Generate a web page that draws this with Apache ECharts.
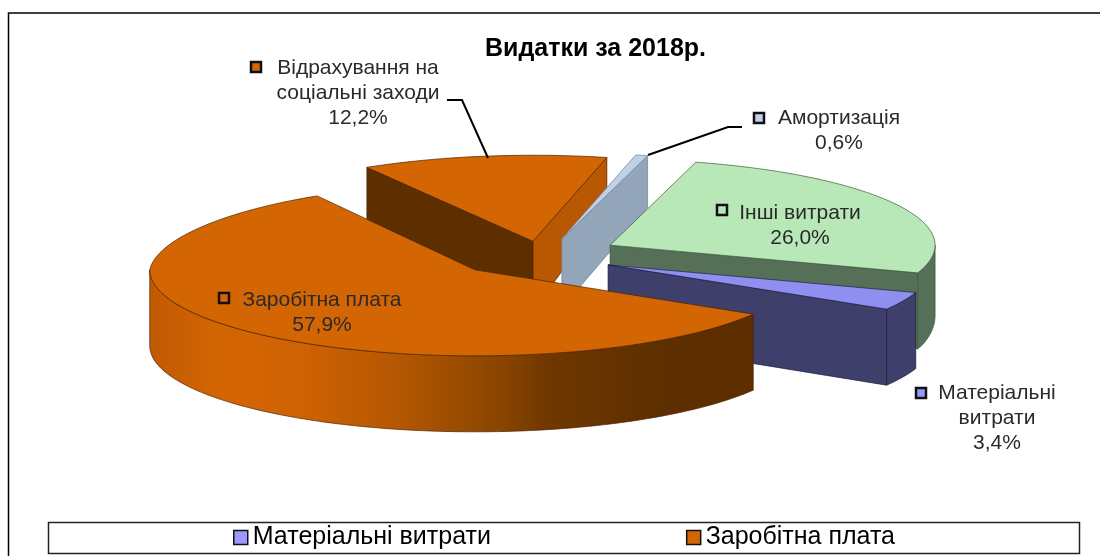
<!DOCTYPE html>
<html><head><meta charset="utf-8">
<style>html,body{margin:0;padding:0;background:#fff}#c{width:1100px;height:556px}</style>
<script src="https://cdn.jsdelivr.net/npm/echarts@6/dist/echarts.min.js"></script>
</head><body><div id="c"></div>
<script>
// ---- data ----
const categories = ['Матеріальні витрати','Заробітна плата','Відрахування на соціальні заходи','Амортизація','Інші витрати'];
const values = [3.4, 57.9, 12.2, 0.6, 26.0];
const legendItems = ['Матеріальні витрати','Заробітна плата'];
const titleText = 'Видатки за 2018р.';
const labelLines = [['Матеріальні','витрати'],['Заробітна плата'],['Відрахування на','соціальні заходи'],['Амортизація'],['Інші витрати']];

// ---- styles ----
const topColors  = ['#8f8fef','#d46503','#d46503','#c0d0e8','#b8e8b8'];
const wallColors = ['#3f3f6b','#5c2e00','#5c2e00','#93a5b8','#567058'];
const startWallColors = ['#3f3f6b','#5c2e00','#5c2e00','#93a5b8','#567058'];
const endWallColors = ['#3f3f6b','#5c2e00','#b85803','#93a5b8','#567058'];
const edgeColors = ['#1c1c40','#4a2400','#4a2400','#6f8098','#3a5a3a'];
const keyColors  = ['#9999ff','#d46503','#d46503','#c0d0e8','#b8e8b8'];
const drawOrder = [2,3,4,0,1];

// ---- geometry of the 3-D projection ----
const CX=535, CY=255, RX=325, RY=86, EX=85, EY=21, START=-18.8;
const nudge = [[-4,1],[0,0],[11,7],[6,4],[0,0]];
const squeeze = [0,0.06,0,0,0];
const total = values.reduce((a,b)=>a+b,0);
const rad = d=>d*Math.PI/180;
const slices = (()=>{let a=START;return values.map(v=>{const s=a,e=a-v/total*360;a=e;return {s,e};});})();
const apex = i=>{const m=rad((slices[i].s+slices[i].e)/2);return [CX+EX*Math.cos(m)+nudge[i][0],CY-EY*Math.sin(m)+nudge[i][1]];};
const rim = (i,deg)=>{const p=apex(i),sn=Math.sin(rad(deg));return [p[0]+RX*Math.cos(rad(deg))*(sn>0?1-squeeze[i]*sn:1),p[1]-RY*sn];};
const depth = y=>Math.max(52,Math.min(76,52+(y-160)*0.22));
const down = p=>[p[0],p[1]+depth(p[1])];
function arcPts(i,a,b){const n=Math.max(2,Math.ceil(Math.abs(a-b)/1.5));const out=[];for(let k=0;k<=n;k++)out.push(rim(i,a+(b-a)*k/n));return out;}
function poly(points,fill,stroke,w){return {type:'polygon',shape:{points},style:{fill,stroke,lineWidth:w===undefined?0.7:w}};}
const frontGrad = new echarts.graphic.LinearGradient(0,0,1,0,[
 {offset:0,color:'#c05a02'},{offset:.12,color:'#d46503'},{offset:.25,color:'#cf6203'},
 {offset:.41,color:'#b55702'},{offset:.58,color:'#8a4500'},{offset:.66,color:'#703700'},
 {offset:.83,color:'#5e3000'},{offset:1,color:'#5c2e00'}]);

function renderSlice(i){
  const {s,e}=slices[i], A=apex(i), children=[];
  const wall=(deg,c)=>{const r=rim(i,deg);children.push(poly([A,r,down(r),down(A)],c,edgeColors[i]));};
  if(Math.cos(rad(s))<0) wall(s,startWallColors[i]);
  if(Math.cos(rad(e))>0) wall(e,endWallColors[i]);
  // the outer wall shows where the rim runs along the lower half of the ellipse
  [[-180,0],[-540,-360]].forEach(([lo,hi])=>{
    const f0=Math.max(e,lo), f1=Math.min(s,hi);
    if(f1>f0){
      const t=arcPts(i,f1,f0);
      children.push(poly(t.concat(t.map(down).reverse()),i===1?frontGrad:wallColors[i],edgeColors[i]));
    }
  });
  children.push(poly([A].concat(arcPts(i,s,e)),topColors[i],edgeColors[i]));
  return {type:'group',children};
}
const series = drawOrder.map(i=>({
  type:'custom',name:categories[i],coordinateSystem:'none',silent:true,
  itemStyle:{color:keyColors[i]},
  data:[[values[i]]],
  renderItem:()=>renderSlice(i)
}));

// ---- labels ----
const pct = v=>v.toFixed(1).replace('.',',')+'%';
const labelFont = '21px "Liberation Sans", Arial, sans-serif';
const labelPos = [
 {key:[921,393],cx:997,y:393},
 {key:[224,298],cx:322,y:300},
 {key:[256,67],cx:358,y:68},
 {key:[759,118],cx:839,y:118},
 {key:[722,210],cx:800,y:213}];
const LINE=25;
const graphic=[
 {type:'rect',shape:{x:8.5,y:13,width:1300,height:600},style:{fill:'none',stroke:'#000',lineWidth:1.5},z:-1,silent:true},
 {type:'rect',shape:{x:48.5,y:522.5,width:1031,height:31},style:{fill:'#fff',stroke:'#222',lineWidth:1.5},z:1,silent:true},
 {type:'polyline',shape:{points:[[447,100],[462,100],[488,158]]},style:{stroke:'#000',lineWidth:2,fill:'none'},z:20},
 {type:'polyline',shape:{points:[[742,127],[728,127],[648,155]]},style:{stroke:'#000',lineWidth:2,fill:'none'},z:20}
];
values.forEach((v,i)=>{
  const L=labelPos[i], lines=labelLines[i].concat([pct(v)]);
  graphic.push({type:'rect',z:20,shape:{x:L.key[0]-5,y:L.key[1]-5,width:10,height:10},style:{fill:keyColors[i],stroke:'#111',lineWidth:2.5}});
  lines.forEach((t,k)=>graphic.push({type:'text',z:20,style:{
    text:t,x:L.cx,y:L.y+k*LINE,align:'center',verticalAlign:'middle',
    font:labelFont,fill:'#2a2a2a'}}));
});

const chart = echarts.init(document.getElementById('c'),null,{renderer:'canvas'});
chart.setOption({
  animation:false,backgroundColor:'#fff',
  title:{text:titleText,left:485,top:37,padding:0,textStyle:{fontFamily:'"Liberation Sans", Arial, sans-serif',fontWeight:'bold',fontSize:25,color:'#000'}},
  legend:{data:legendItems,left:233,top:525,padding:0,itemGap:195,itemWidth:14,itemHeight:14,icon:'rect',selectedMode:false,
    itemStyle:{borderColor:'#111',borderWidth:1.5},
    textStyle:{fontFamily:'"Liberation Sans", Arial, sans-serif',fontSize:25,color:'#000'},z:5},
  graphic,
  series
});
</script></body></html>
